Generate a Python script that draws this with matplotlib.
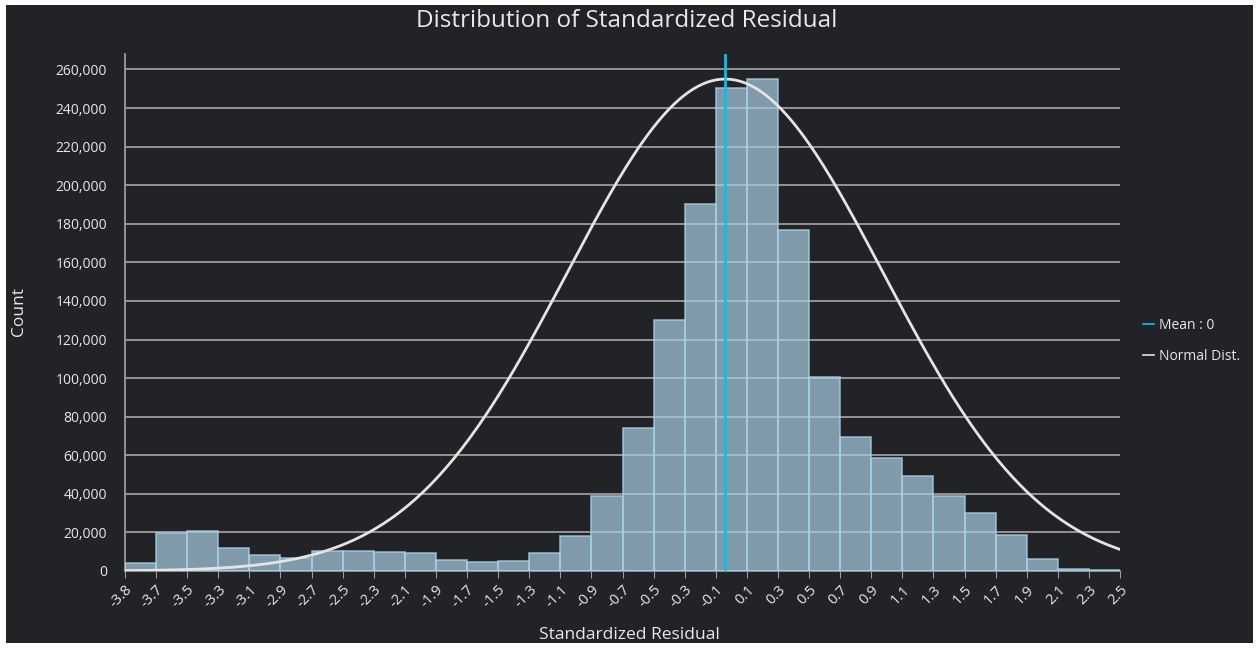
import numpy as np
import matplotlib
matplotlib.use("Agg")
import matplotlib.pyplot as plt
from matplotlib.patches import Rectangle
from matplotlib.ticker import FuncFormatter

# histogram counts, 32 equal bins between x_min and x_max
counts = [4350, 19900, 20900, 12100, 8100, 6900, 10200, 10200, 9700, 9200,
          5500, 4450, 5300, 9300, 18400, 39000, 74100, 130000, 190500, 250200,
          255200, 176700, 100700, 69300, 58750, 49250, 38960, 30000, 18600, 6450,
          1040, 300]
x_min = -3.8
x_max = 2.5
tick_labels = ["-3.8", "-3.7", "-3.5", "-3.3", "-3.1", "-2.9", "-2.7", "-2.5", "-2.3",
               "-2.1", "-1.9", "-1.7", "-1.5", "-1.3", "-1.1", "-0.9", "-0.7", "-0.5",
               "-0.3", "-0.1", "0.1", "0.3", "0.5", "0.7", "0.9", "1.1", "1.3", "1.5",
               "1.7", "1.9", "2.1", "2.3", "2.5"]
y_ticks = list(range(0, 260001, 20000))

# normal distribution overlay
mean = 0.0
std = 1.0
peak = 255000

bg = "#222327"
txt = "#e8e8e8"
grid_col = "#9c9c9c"

fig = plt.figure(figsize=(12.59, 6.48), dpi=100)
fig.patch.set_facecolor("white")
fig.patches.append(Rectangle((6 / 1259, 5 / 648), 1247 / 1259, 638 / 648,
                             transform=fig.transFigure, facecolor=bg,
                             edgecolor="none", zorder=-10))

ax = fig.add_axes([125 / 1259, 1 - 571 / 648, 995 / 1259, 517 / 648])
ax.set_facecolor(bg)

edges = np.linspace(x_min, x_max, len(counts) + 1)
widths = np.diff(edges)
ax.bar(edges[:-1], counts, width=widths, align="edge", color="#a9cde3", alpha=0.7,
       edgecolor="#a6d3ea", linewidth=1.3, zorder=3)

xs = np.linspace(x_min, x_max, 400)
ys = peak * np.exp(-0.5 * ((xs - mean) / std) ** 2)
ax.plot(xs, ys, color="#e4e4e4", lw=2, zorder=4, label="Normal Dist.")
ax.axvline(mean, color="#00c4ef", lw=2, zorder=5, label="Mean : 0")

ax.set_xlim(x_min, x_max)
ax.set_ylim(0, 268000)
ax.set_xticks(edges)
ax.set_xticklabels(tick_labels, rotation=45, ha="right", va="top",
                   rotation_mode="anchor", fontsize=10.5, color=txt,
                   family="Open Sans")
ax.set_yticks(y_ticks)
ax.yaxis.set_major_formatter(FuncFormatter(lambda v, p: f"{int(v):,}"))
ax.tick_params(axis="y", length=0, pad=13, labelsize=10, labelcolor=txt)
for lab in ax.get_yticklabels():
    lab.set_family("Open Sans")
ax.tick_params(axis="x", length=5, color=grid_col, pad=3)
ax.grid(axis="y", color=grid_col, lw=1.3, zorder=1)
ax.set_axisbelow(True)

for s in ["top", "right"]:
    ax.spines[s].set_visible(False)
ax.spines["left"].set_color(grid_col)
ax.spines["bottom"].set_color(grid_col)
ax.spines["left"].set_linewidth(1.3)
ax.spines["bottom"].set_linewidth(1.3)

fig.text(627 / 1259, 1 - 21 / 648, "Distribution of Standardized Residual",
         ha="center", va="center", fontsize=17.5, color=txt, family="Open Sans")
fig.text(629 / 1259, 1 - 635 / 648, "Standardized Residual", ha="center",
         va="center", fontsize=12.5, color=txt, family="Open Sans")
fig.text(19 / 1259, 1 - 312 / 648, "Count", ha="center", va="center",
         rotation=90, fontsize=12.5, color=txt, family="Open Sans")

handles, labels = ax.get_legend_handles_labels()
leg = fig.legend(handles[::-1], labels[::-1], loc="center left",
                 bbox_to_anchor=(1130 / 1259, 1 - 341 / 648), frameon=False,
                 handlelength=0.8, handletextpad=0.4, labelspacing=1.2,
                 prop={"family": "Open Sans", "size": 10})
for t in leg.get_texts():
    t.set_color(txt)
for h in leg.get_lines():
    h.set_linewidth(1.2)

fig.savefig("out.png", dpi=100, facecolor=fig.get_facecolor())
